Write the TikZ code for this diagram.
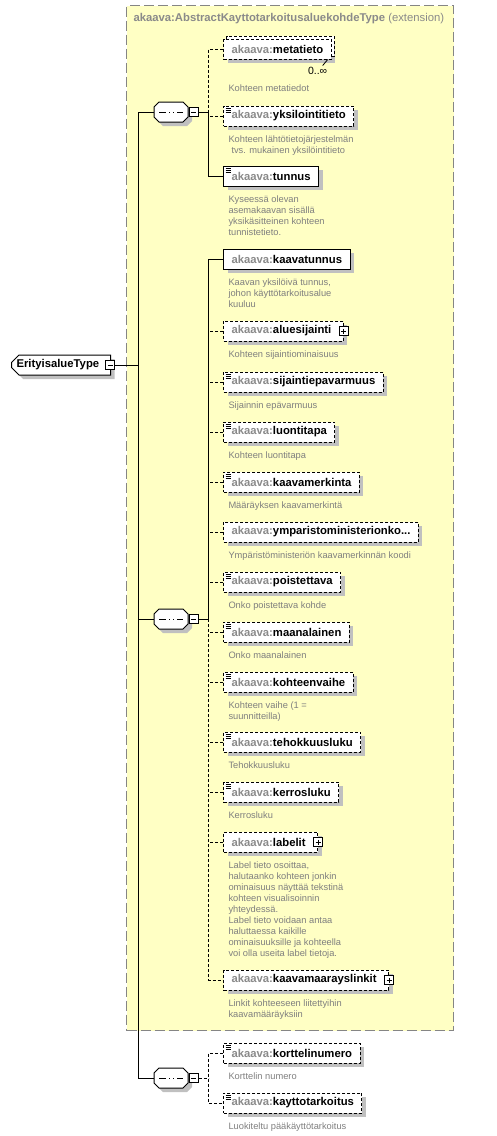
\documentclass[tikz,border=0pt]{standalone}
\usepackage{fontspec}
\setmainfont{Liberation Sans}
\usepackage{xcolor}
\usetikzlibrary{shapes.misc,shadows,positioning}
\definecolor{extfill}{HTML}{FFFFC4}
\definecolor{extline}{HTML}{858585}
\definecolor{nsgray}{HTML}{8A8A8A}
\definecolor{descgray}{HTML}{7F7F7F}
\definecolor{shadowgray}{HTML}{C0C0C0}
\newcommand{\el}[1]{{\color{nsgray}akaava:}#1}
\newcommand{\btnroom}[1]{\rule{#1}{0pt}}
\newcommand{\namefont}{\fontsize{11.3}{13}\selectfont\bfseries}
\newcommand{\descfont}{\fontsize{9.3}{11}\selectfont}

\begin{document}
\begin{tikzpicture}[x=1pt, y=-1pt, line width=1pt,
    boxshadow/.style={general shadow={fill=shadowgray, shadow xshift=4pt, shadow yshift=-4pt}},
    stackcopy/.style={general shadow={fill=white, draw=black, dash pattern=on 3pt off 2pt, shadow xshift=3pt, shadow yshift=3pt}},
    elem/.style={draw, fill=white, anchor=west, minimum height=20pt, inner xsep=8pt, inner ysep=0pt, font=\namefont, boxshadow},
    optelem/.style={elem, dash pattern=on 3pt off 2pt},
    simple/.style={path picture={\foreach \k in {2,4,6} \draw[solid, line width=0.8pt] ([xshift=2pt,yshift=-\k pt]path picture bounding box.north west) -- ++(5pt,0pt);}},
    optline/.style={dash pattern=on 3pt off 2pt},
    desc/.style={font=\descfont, text=descgray, align=left, inner sep=0pt},
    root/.style={chamfered rectangle, chamfered rectangle corners={north west,south west}, chamfered rectangle xsep=4pt, draw, fill=white, anchor=west, minimum height=20pt, inner xsep=1pt, inner ysep=0pt, font=\namefont, boxshadow},
    seq/.style={chamfered rectangle, chamfered rectangle sep=5pt, draw, fill=white, minimum width=34pt, minimum height=20pt, inner sep=0pt, boxshadow,
        path picture={\draw ([xshift=-12pt]path picture bounding box.center) -- ([xshift=12pt]path picture bounding box.center);
            \foreach \k in {-4,0,4} \fill ([xshift=\k pt]path picture bounding box.center) +(-1.5pt,-1.5pt) rectangle +(1.5pt,1.5pt);}},
    btn/.style={draw, fill=white, minimum width=9pt, minimum height=9pt, inner sep=0pt},
    collapse/.style={btn, path picture={\draw ([xshift=2pt]path picture bounding box.west) -- ([xshift=-2pt]path picture bounding box.east);}},
    expand/.style={btn, path picture={\draw ([xshift=2pt]path picture bounding box.west) -- ([xshift=-2pt]path picture bounding box.east);
            \draw ([yshift=-2pt]path picture bounding box.north) -- ([yshift=2pt]path picture bounding box.south);}}
]
\useasboundingbox (0,0) rectangle (496,1136);

% extension frame
\node[draw=extline, fill=extfill, dash pattern=on 10pt off 4pt, anchor=north west, minimum width=327pt, minimum height=1025pt, inner sep=0pt] (ext) at (126,5) {};
\node[font=\namefont, text=nsgray, anchor=west, inner sep=0pt] (ext-title) at (133,19) {akaava:AbstractKayttotarkoitusaluekohdeType \mdseries(extension)};

% root
\node[root] (root) at (11,365) {ErityisalueType\btnroom{6.5pt}};
\node[collapse] (root-col) at ([xshift=-1pt]root.east) {};

% sequences
\node[seq] (seq1) at (171,112) {\rule[-5pt]{0pt}{10pt}\hspace{24pt}};
\node[collapse] (seq1-col) [right=0pt of seq1] {};
\node[seq] (seq2) at (171,619) {\rule[-5pt]{0pt}{10pt}\hspace{24pt}};
\node[collapse] (seq2-col) [right=0pt of seq2] {};
\node[seq] (seq3) at (171,1078) {\rule[-5pt]{0pt}{10pt}\hspace{24pt}};
\node[collapse] (seq3-col) [right=0pt of seq3] {};

\coordinate (trunk) at ([xshift=-15pt]seq1.west);
\coordinate (fork1) at ([xshift=10pt]seq1-col.east);
\coordinate (fork2) at ([xshift=10pt]seq2-col.east);
\coordinate (fork3) at ([xshift=10pt]seq3-col.east);

% first sequence
\node[optelem, boxshadow, stackcopy] (metatieto) at (223,49) {\el{metatieto}};
\node[font=\fontsize{10.5}{12}\selectfont, inner sep=0pt] (metatieto-occ) [below left=7pt and 4pt of metatieto.south east] {0..∞};
\draw[line width=0.8pt] ([xshift=-4pt]metatieto.south east) -- ++(-5,6);
\node[desc] (metatieto-d) [below right=25pt and 5pt of metatieto.south west] {Kohteen metatiedot};
\node[optelem, simple] (yksilointitieto) at (223,116) {\el{yksilointitieto}};
\node[desc] (yksilointitieto-d) [below right=9pt and 5pt of yksilointitieto.south west] {Kohteen lähtötietojärjestelmän\\\hspace*{3pt}tvs. mukainen yksilöintitieto};
\node[elem, simple] (tunnus) at (223,176) {\el{tunnus}};
\node[desc] (tunnus-d) [below right=9pt and 5pt of tunnus.south west] {Kyseessä olevan\\asemakaavan sisällä\\yksikäsitteinen kohteen\\tunnistetieto.};

% second sequence
\node[elem] (kaavatunnus) at (223,259) {\el{kaavatunnus}};
\node[desc] (kaavatunnus-d) [below right=9pt and 5pt of kaavatunnus.south west] {Kaavan yksilöivä tunnus,\\johon käyttötarkoitusalue\\kuuluu};
\node[optelem] (aluesijainti) at (223,331) {\el{aluesijainti}\btnroom{4pt}};
\node[expand] (aluesijainti-x) at (aluesijainti.east) {};
\node[desc] (aluesijainti-d) [below right=9pt and 5pt of aluesijainti.south west] {Kohteen sijaintiominaisuus};
\node[optelem, simple] (sijaintiepavarmuus) at (223,382) {\el{sijaintiepavarmuus}};
\node[desc] (sijaintiepavarmuus-d) [below right=9pt and 5pt of sijaintiepavarmuus.south west] {Sijainnin epävarmuus};
\node[optelem, simple] (luontitapa) at (223,432) {\el{luontitapa}};
\node[desc] (luontitapa-d) [below right=9pt and 5pt of luontitapa.south west] {Kohteen luontitapa};
\node[optelem, simple] (kaavamerkinta) at (223,482) {\el{kaavamerkinta}};
\node[desc] (kaavamerkinta-d) [below right=9pt and 5pt of kaavamerkinta.south west] {Määräyksen kaavamerkintä};
\node[optelem] (ymparisto) at (223,532) {\el{ymparistoministerionko...}};
\node[desc] (ymparisto-d) [below right=9pt and 5pt of ymparisto.south west] {Ympäristöministeriön kaavamerkinnän koodi};
\node[optelem, simple] (poistettava) at (223,582) {\el{poistettava}};
\node[desc] (poistettava-d) [below right=9pt and 5pt of poistettava.south west] {Onko poistettava kohde};
\node[optelem, simple] (maanalainen) at (223,632) {\el{maanalainen}};
\node[desc] (maanalainen-d) [below right=9pt and 5pt of maanalainen.south west] {Onko maanalainen};
\node[optelem, simple] (kohteenvaihe) at (223,682) {\el{kohteenvaihe}};
\node[desc] (kohteenvaihe-d) [below right=9pt and 5pt of kohteenvaihe.south west] {Kohteen vaihe (1 =\\suunnitteilla)};
\node[optelem, simple] (tehokkuusluku) at (223,742) {\el{tehokkuusluku}};
\node[desc] (tehokkuusluku-d) [below right=9pt and 5pt of tehokkuusluku.south west] {Tehokkuusluku};
\node[optelem, simple] (kerrosluku) at (223,792) {\el{kerrosluku}};
\node[desc] (kerrosluku-d) [below right=9pt and 5pt of kerrosluku.south west] {Kerrosluku};
\node[optelem] (labelit) at (223,842) {\el{labelit}\btnroom{4pt}};
\node[expand] (labelit-x) at (labelit.east) {};
\node[desc] (labelit-d) [below right=9pt and 5pt of labelit.south west] {Label tieto osoittaa,\\halutaanko kohteen jonkin\\ominaisuus näyttää tekstinä\\kohteen visualisoinnin\\yhteydessä.\\Label tieto voidaan antaa\\haluttaessa kaikille\\ominaisuuksille ja kohteella\\voi olla useita label tietoja.};
\node[optelem] (kaavamaarayslinkit) at (223,980) {\el{kaavamaarayslinkit}\btnroom{4pt}};
\node[expand] (kaavamaarayslinkit-x) at (kaavamaarayslinkit.east) {};
\node[desc] (kaavamaarayslinkit-d) [below right=9pt and 5pt of kaavamaarayslinkit.south west] {Linkit kohteeseen liitettyihin\\kaavamääräyksiin};

% third sequence
\node[optelem, simple] (korttelinumero) at (223,1053) {\el{korttelinumero}};
\node[desc] (korttelinumero-d) [below right=9pt and 5pt of korttelinumero.south west] {Korttelin numero};
\node[optelem, simple] (kayttotarkoitus) at (223,1103) {\el{kayttotarkoitus}};
\node[desc] (kayttotarkoitus-d) [below right=9pt and 5pt of kayttotarkoitus.south west] {Luokiteltu pääkäyttötarkoitus};

% connectors
\draw (root-col.east) -- (root-col.east -| trunk);
\draw (seq1.west) -- (trunk) |- (seq3.west);
\draw (seq2.west) -- (seq2.west -| trunk);

\draw[optline] (metatieto.west) -| (fork1);
\draw[optline] (yksilointitieto.west) -- (yksilointitieto.west -| fork1);
\draw (seq1-col.east) -- (fork1) |- (tunnus.west);

\draw (seq2-col.east) -- (fork2) |- (kaavatunnus.west);
\draw[optline] (fork2) |- (kaavamaarayslinkit.west);
\foreach \n in {aluesijainti,sijaintiepavarmuus,luontitapa,kaavamerkinta,ymparisto,poistettava,maanalainen,kohteenvaihe,tehokkuusluku,kerrosluku,labelit}
  \draw[optline] (\n.west) -- (\n.west -| fork2);

\draw[optline] (seq3-col.east) -- (fork3);
\draw[optline] (korttelinumero.west) -| (fork3) |- (kayttotarkoitus.west);
\end{tikzpicture}
\end{document}
